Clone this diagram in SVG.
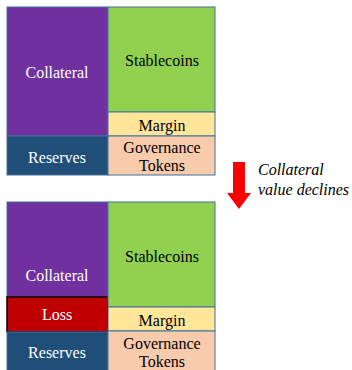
<svg xmlns="http://www.w3.org/2000/svg" width="352" height="370" viewBox="0 0 352 370">
<style>
.b{stroke:#41719C;stroke-width:1}
.t{font-size:16px;text-anchor:middle;dominant-baseline:central}
.w{fill:#fff}.k{fill:#000}
.i{font-size:16px;font-style:italic;fill:#000}
</style>
<rect width="352" height="370" fill="#fff"/>
<g font-family="'Liberation Serif', 'DejaVu Serif', serif">
<g id="top">
<g id="collateral1"><rect class="b" x="7" y="7" width="101" height="129" fill="#7030A0"/><text class="t w" x="57" y="72">Collateral</text></g>
<g id="reserves1"><rect class="b" x="7" y="136" width="101" height="39" fill="#1F4E79"/><text class="t w" x="57" y="157">Reserves</text></g>
<g id="stablecoins1"><rect class="b" x="108" y="7" width="107" height="105" fill="#92D050"/><text class="t k" x="162" y="60">Stablecoins</text></g>
<g id="margin1"><rect class="b" x="108" y="112" width="107" height="24" fill="#FFE699"/><text class="t k" x="162" y="125">Margin</text></g>
<g id="gov1"><rect class="b" x="108" y="136" width="107" height="39" fill="#F8CBAD"/><text class="t k" x="162" y="147">Governance</text><text class="t k" x="162" y="165">Tokens</text></g>
</g>
<g id="arrow">
<polygon points="233,162 245,162 245,193 251,193 239,209 227,193 233,193" fill="#FF0000"/>
<text class="i" x="258" y="175">Collateral</text>
<text class="i" x="258" y="195">value declines</text>
</g>
<g id="bottom">
<g id="collateral2"><rect class="b" x="7" y="202" width="101" height="95" fill="#7030A0"/><text class="t w" x="57" y="275">Collateral</text></g>
<g id="loss"><rect x="7" y="297" width="101" height="35" fill="#C00000" stroke="#000" stroke-width="1.5"/><text class="t w" x="57" y="314">Loss</text></g>
<g id="reserves2"><rect class="b" x="7" y="332" width="101" height="40" fill="#1F4E79"/><text class="t w" x="57" y="352">Reserves</text></g>
<g id="stablecoins2"><rect class="b" x="108" y="202" width="107" height="105" fill="#92D050"/><text class="t k" x="162" y="256">Stablecoins</text></g>
<g id="margin2"><rect class="b" x="108" y="307" width="107" height="24" fill="#FFE699"/><text class="t k" x="162" y="320">Margin</text></g>
<g id="gov2"><rect class="b" x="108" y="331" width="107" height="41" fill="#F8CBAD"/><text class="t k" x="162" y="343">Governance</text><text class="t k" x="162" y="361">Tokens</text></g>
</g>
</g>
</svg>
